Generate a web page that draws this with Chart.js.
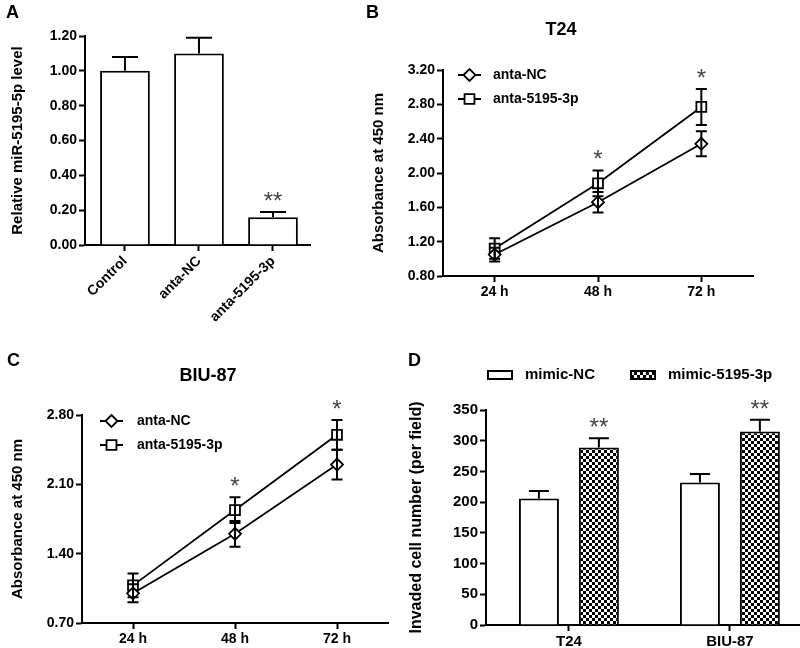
<!DOCTYPE html>
<html>
<head>
<meta charset="utf-8">
<script src="https://cdn.jsdelivr.net/npm/chart.js@4.4.1/dist/chart.umd.min.js"></script>
<style>
  body { margin: 0; background: #fff; }
  #fig { position: relative; width: 800px; height: 648px; overflow: hidden; background: #fff; font-family: Arial, "Liberation Sans", sans-serif; }
  #fig canvas { position: absolute; }
  .tag { position: absolute; font-size: 18px; font-weight: bold; line-height: 1; color: #000; }
  .ttl { position: absolute; font-size: 18px; font-weight: bold; line-height: 1; color: #000; transform: translateX(-50%); white-space: nowrap; }
</style>
</head>
<body>
<div id="fig">
  <canvas id="chartA" width="330" height="330" style="left:0;top:0"></canvas>
  <canvas id="chartB" width="420" height="330" style="left:360px;top:0"></canvas>
  <canvas id="chartC" width="400" height="318" style="left:0;top:330px"></canvas>
  <canvas id="chartD" width="440" height="318" style="left:400px;top:330px"></canvas>
  <div class="tag" style="left:6px;top:3px">A</div>
  <div class="tag" style="left:366px;top:3px">B</div>
  <div class="tag" style="left:7px;top:351px">C</div>
  <div class="tag" style="left:408px;top:351px">D</div>
  <div class="ttl" style="left:561px;top:20px">T24</div>
  <div class="ttl" style="left:208px;top:366px">BIU-87</div>
</div>
<script>
// Panel A - relative miR-5195-5p level
const catA = ['Control', 'anta-NC', 'anta-5195-3p'];
const valA = [1.00, 1.10, 0.16];
const errA = [0.08, 0.09, 0.03];
const starA = ['', '', '**'];

// Panel B - T24, absorbance at 450 nm
const hours = ['24 h', '48 h', '72 h'];
const ncB = [1.05, 1.66, 2.34];
const ncBErr = [0.08, 0.12, 0.145];
const miB = [1.12, 1.88, 2.77];
const miBErr = [0.12, 0.15, 0.21];
const starB = ['', '*', '*'];

// Panel C - BIU-87, absorbance at 450 nm
const ncC = [1.00, 1.60, 2.30];
const ncCErr = [0.09, 0.13, 0.15];
const miC = [1.08, 1.84, 2.60];
const miCErr = [0.12, 0.13, 0.15];
const starC = ['', '*', '*'];

// Panel D - invaded cells per field
const catD = ['T24', 'BIU-87'];
const ncD = [206, 232];
const ncDErr = [12, 14];
const miD = [289, 315];
const miDErr = [15, 19];
const starD = ['**', '**'];

const FONT = 'Arial, "Liberation Sans", sans-serif';

function checker() {
  const c = document.createElement('canvas');
  c.width = 6; c.height = 6;
  const g = c.getContext('2d');
  g.fillStyle = '#fff'; g.fillRect(0, 0, 6, 6);
  g.fillStyle = '#000'; g.fillRect(0, 0, 3, 3); g.fillRect(3, 3, 3, 3);
  return g.createPattern(c, 'repeat');
}

function drawMarker(ctx, style, x, y, r) {
  ctx.beginPath();
  if (style === 'rectRot') {
    ctx.moveTo(x - r, y); ctx.lineTo(x, y - r); ctx.lineTo(x + r, y); ctx.lineTo(x, y + r); ctx.closePath();
  } else {
    const s = r * Math.SQRT1_2;
    ctx.rect(x - s, y - s, 2 * s, 2 * s);
  }
  ctx.fill(); ctx.stroke();
}

// error bars (+ significance stars) from the dataset's errors array
const errorBars = {
  id: 'errorBars',
  afterDatasetsDraw(chart, args, o) {
    const ctx = chart.ctx;
    const ys = chart.scales.y;
    chart.data.datasets.forEach((ds, d) => {
      chart.getDatasetMeta(d).data.forEach((el, i) => {
        const raw = ds.data[i];
        const v = typeof raw === 'object' ? raw.y : raw;
        const e = ds.errors[i];
        const yTop = ys.getPixelForValue(v + e);
        const yBot = ys.getPixelForValue(o.both ? v - e : v);
        const half = o.cap / 2;
        ctx.save();
        ctx.strokeStyle = '#000';
        ctx.lineWidth = o.width;
        ctx.beginPath();
        ctx.moveTo(el.x, yBot); ctx.lineTo(el.x, yTop);
        ctx.moveTo(el.x - half, yTop); ctx.lineTo(el.x + half, yTop);
        if (o.both) { ctx.moveTo(el.x - half, yBot); ctx.lineTo(el.x + half, yBot); }
        ctx.stroke();
        if (ds.stars && ds.stars[i]) {
          ctx.fillStyle = '#444';
          ctx.font = '24px ' + FONT;
          ctx.textAlign = 'center';
          ctx.textBaseline = 'alphabetic';
          ctx.fillText(ds.stars[i], el.x, yTop - o.starGap + 14);
        }
        ctx.restore();
      });
    });
  }
};

// legend inside the plot: line + marker + label
const lineLegend = {
  id: 'lineLegend',
  afterDraw(chart, args, o) {
    const ctx = chart.ctx;
    const area = chart.chartArea;
    chart.data.datasets.forEach((ds, i) => {
      const x = area.left + o.dx;
      const y = area.top + o.dy + i * o.gap;
      ctx.save();
      ctx.strokeStyle = '#000';
      ctx.lineWidth = 2;
      ctx.beginPath(); ctx.moveTo(x, y); ctx.lineTo(x + o.len, y); ctx.stroke();
      ctx.fillStyle = '#fff';
      ctx.lineWidth = 1.8;
      drawMarker(ctx, ds.pointStyle, x + o.len / 2, y, ds.pointRadius);
      ctx.fillStyle = '#000';
      ctx.font = 'bold 14px ' + FONT;
      ctx.textAlign = 'left';
      ctx.textBaseline = 'middle';
      ctx.fillText(ds.label, x + o.textDx, y);
      ctx.restore();
    });
  }
};

// legend above panel D: filled box + label
const boxLegend = {
  id: 'boxLegend',
  afterDraw(chart, args, o) {
    const ctx = chart.ctx;
    chart.data.datasets.forEach((ds, i) => {
      const x = o.xs[i];
      ctx.save();
      ctx.fillStyle = ds.backgroundColor;
      ctx.strokeStyle = '#000';
      ctx.lineWidth = 2;
      ctx.fillRect(x, o.y - o.h / 2, o.w, o.h);
      ctx.strokeRect(x, o.y - o.h / 2, o.w, o.h);
      ctx.fillStyle = '#000';
      ctx.font = 'bold 15px ' + FONT;
      ctx.textAlign = 'left';
      ctx.textBaseline = 'middle';
      ctx.fillText(ds.label, x + o.w + o.gap, o.y);
      ctx.restore();
    });
  }
};

function yAxis(min, max, step, digits, title, width, titlePad, tickSize, titleSize) {
  return {
    min: min, max: max,
    ticks: { stepSize: step, callback: v => v.toFixed(digits), color: '#000', padding: 2,
      font: { family: FONT, size: tickSize, weight: 'bold' } },
    grid: { drawOnChartArea: false, drawTicks: true, tickLength: 6, tickWidth: 2, tickColor: '#000' },
    border: { color: '#000', width: 2 },
    title: { display: true, text: title, color: '#000', padding: { top: titlePad, bottom: 0 },
      font: { family: FONT, size: titleSize, weight: 'bold' } },
    afterFit: s => { s.width = width; }
  };
}

function xGrid() {
  return { drawOnChartArea: false, drawTicks: true, tickLength: 6, tickWidth: 2, tickColor: '#000', offset: false };
}

const noChrome = { legend: { display: false }, tooltip: { enabled: false } };

// A
new Chart(document.getElementById('chartA'), {
  type: 'bar',
  data: {
    datasets: [{
      label: 'A',
      data: valA.map((v, i) => ({ x: i, y: v })),
      errors: errA, stars: starA,
      backgroundColor: '#fff', borderColor: '#000', borderWidth: 2,
      categoryPercentage: 0.8, barPercentage: 0.84
    }]
  },
  options: {
    responsive: false, animation: false,
    layout: { padding: { top: 36, right: 20, left: 0, bottom: 0 } },
    plugins: Object.assign({ errorBars: { cap: 26, width: 2, both: false, starGap: 17 } }, noChrome),
    scales: {
      x: {
        type: 'linear', min: -0.54, max: 2.5, offset: false,
        afterBuildTicks: s => { s.ticks = catA.map((c, i) => ({ value: i })); },
        ticks: { callback: (v, i) => catA[i], minRotation: 45, maxRotation: 45, autoSkip: false, color: '#000', padding: 2,
          font: { family: FONT, size: 14, weight: 'bold' } },
        grid: xGrid(),
        border: { color: '#000', width: 2 },
        afterFit: s => { s.height = 85; }
      },
      y: yAxis(0, 1.2, 0.2, 2, 'Relative miR-5195-5p level', 85, 9, 14, 15)
    }
  },
  plugins: [errorBars]
});

function lineSet(label, data, errors, style, radius, stars) {
  return {
    label: label, data: data, errors: errors, stars: stars,
    borderColor: '#000', borderWidth: 1.8, tension: 0, fill: false,
    pointStyle: style, pointRadius: radius,
    pointBackgroundColor: '#fff', pointBorderColor: '#000', pointBorderWidth: 1.8
  };
}

function lineChart(id, nc, ncErr, mi, miErr, stars, yMin, yMax, yStep, yWidth, titlePad, pad, xHeight, legend) {
  new Chart(document.getElementById(id), {
    type: 'line',
    data: {
      labels: hours,
      datasets: [
        lineSet('anta-NC', nc, ncErr, 'rectRot', 6, null),
        lineSet('anta-5195-3p', mi, miErr, 'rect', 7, stars)
      ]
    },
    options: {
      responsive: false, animation: false,
      layout: { padding: pad },
      plugins: Object.assign({
        errorBars: { cap: 11, width: 2, both: true, starGap: 17 },
        lineLegend: legend
      }, noChrome),
      scales: {
        x: {
          type: 'category', offset: true,
          ticks: { color: '#000', padding: 2, maxRotation: 0, font: { family: FONT, size: 14, weight: 'bold' } },
          grid: xGrid(),
          border: { color: '#000', width: 2 },
          afterFit: s => { s.height = xHeight; }
        },
        y: yAxis(yMin, yMax, yStep, 2, 'Absorbance at 450 nm', yWidth, titlePad, 14, 15)
      }
    },
    plugins: [errorBars, lineLegend]
  });
}

// B
lineChart('chartB', ncB, ncBErr, miB, miBErr, starB, 0.8, 3.2, 0.4, 83, 10,
  { top: 70, right: 27, left: 0, bottom: 0 }, 54, { dx: 15, dy: 5, gap: 24, len: 23, textDx: 35 });

// C
lineChart('chartC', ncC, ncCErr, miC, miCErr, starC, 0.7, 2.8, 0.7, 82, 9,
  { top: 85, right: 12, left: 0, bottom: 0 }, 25, { dx: 18, dy: 6, gap: 24, len: 23, textDx: 37 });

// D
new Chart(document.getElementById('chartD'), {
  type: 'bar',
  data: {
    datasets: [
      { label: 'mimic-NC', data: ncD.map((v, i) => ({ x: i, y: v })), errors: ncDErr,
        backgroundColor: '#fff', borderColor: '#000', borderWidth: 2,
        categoryPercentage: 0.745, barPercentage: 0.667 },
      { label: 'mimic-5195-3p', data: miD.map((v, i) => ({ x: i, y: v })), errors: miDErr, stars: starD,
        backgroundColor: checker(), borderColor: '#000', borderWidth: 2,
        categoryPercentage: 0.745, barPercentage: 0.667 }
    ]
  },
  options: {
    responsive: false, animation: false,
    layout: { padding: { top: 80, right: 0, left: 0, bottom: 0 } },
    plugins: Object.assign({
      errorBars: { cap: 20, width: 2, both: false, starGap: 17 },
      boxLegend: { xs: [88, 231], y: 45, w: 24, h: 8, gap: 13 }
    }, noChrome),
    scales: {
      x: {
        type: 'linear', min: -0.515, max: 1.684, offset: false,
        afterBuildTicks: s => { s.ticks = catD.map((c, i) => ({ value: i })); },
        ticks: { callback: (v, i) => catD[i], maxRotation: 0, autoSkip: false, color: '#000', padding: 2,
          font: { family: FONT, size: 15, weight: 'bold' } },
        grid: xGrid(),
        border: { color: '#000', width: 2 },
        afterFit: s => { s.height = 23; }
      },
      y: yAxis(0, 350, 50, 0, 'Invaded cell number (per field)', 86, 7, 15, 16)
    }
  },
  plugins: [errorBars, boxLegend]
});
</script>
</body>
</html>
